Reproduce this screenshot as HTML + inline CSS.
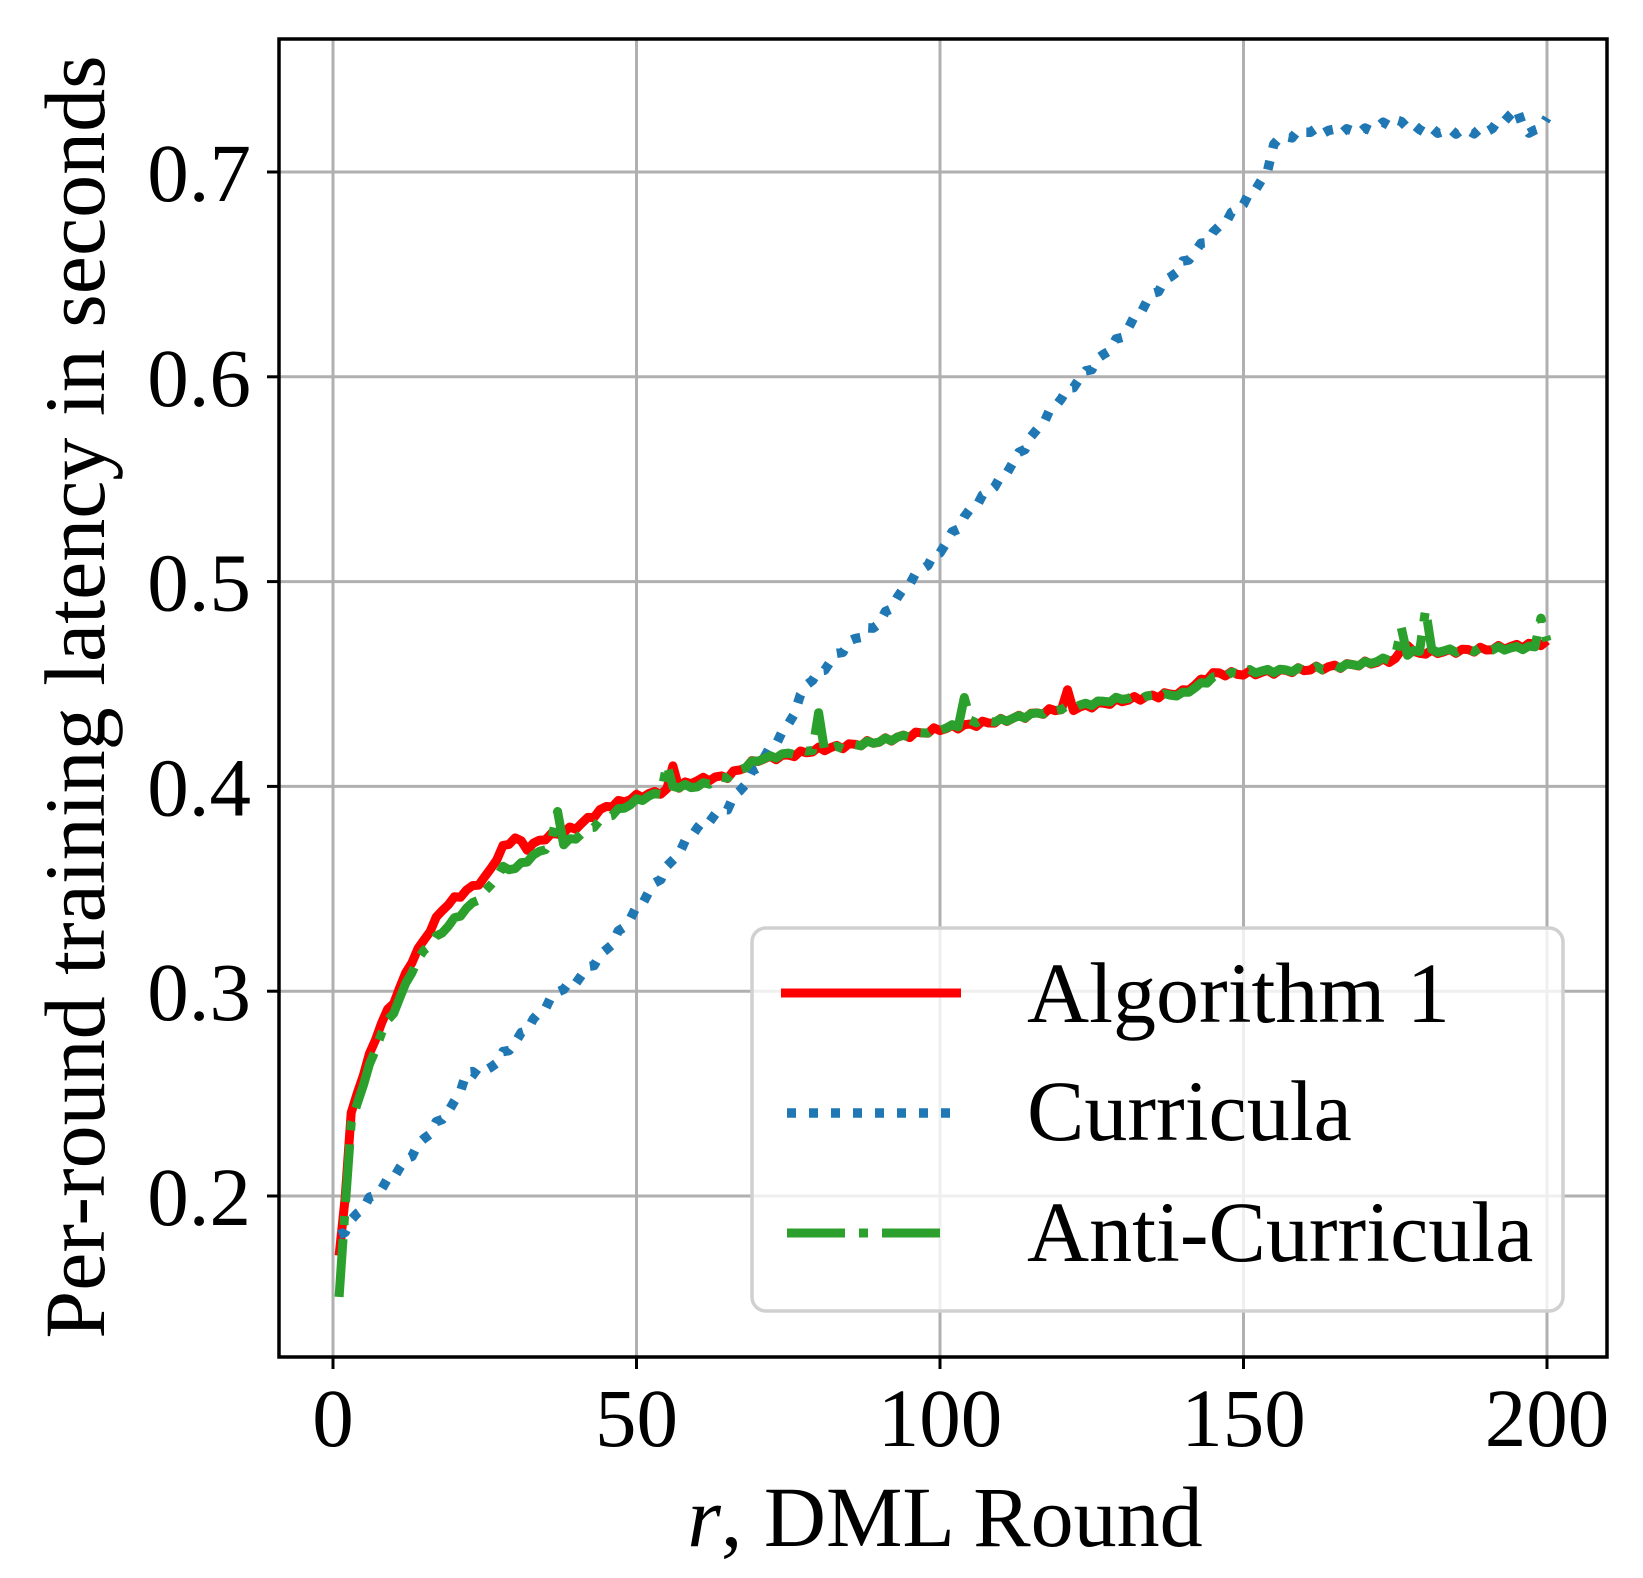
<!DOCTYPE html>
<html><head><meta charset="utf-8"><style>
html,body{margin:0;padding:0;background:#fff;}
svg{display:block;font-family:"Liberation Serif",serif;}
</style></head><body>
<svg id="s" width="1643" height="1578" xmlns="http://www.w3.org/2000/svg">
<rect width="1643" height="1578" fill="#fff"/>
<g id="grid" stroke="#b0b0b0" stroke-width="3"></g>
<g id="series" fill="none" stroke-linejoin="round"></g>
<rect x="279" y="39" width="1328" height="1318" fill="none" stroke="#000" stroke-width="3.5"/>
<g id="ticks" stroke="#000" stroke-width="3"></g>
<g id="labels" font-size="83" fill="#000"></g>
<text x="945" y="1546" font-size="86" text-anchor="middle"><tspan font-style="italic">r</tspan>, DML Round</text>
<text transform="translate(104,697) rotate(-90)" font-size="86" text-anchor="middle">Per-round training latency in seconds</text>
<g>
<rect x="752" y="928" width="811" height="383" rx="14" fill="#fff" fill-opacity="0.8" stroke="#d0d0d0" stroke-width="3.5"/>
<line x1="781" y1="993" x2="961" y2="993" stroke="#ff0000" stroke-width="9"/>
<line x1="787" y1="1113" x2="961" y2="1113" stroke="#1f77b4" stroke-width="9.5" stroke-dasharray="9 13"/>
<line x1="787" y1="1233" x2="961" y2="1233" stroke="#2ca02c" stroke-width="9" stroke-dasharray="58 14 9 14 58"/>
<text x="1027" y="1022" font-size="86">Algorithm 1</text>
<text x="1027" y="1140" font-size="86">Curricula</text>
<text x="1027" y="1261" font-size="86">Anti-Curricula</text>
</g>
</svg>
<script>
const NS="http://www.w3.org/2000/svg";
const X=v=>333+v*6.07, Y=v=>172+(0.7-v)*2048;
function el(p,t,a){const e=document.createElementNS(NS,t);for(const k in a)e.setAttribute(k,a[k]);p.appendChild(e);return e;}
const g=document.getElementById('grid'),tk=document.getElementById('ticks'),lb=document.getElementById('labels');
[0,50,100,150,200].forEach(v=>{const x=X(v);el(g,'line',{x1:x,y1:39,x2:x,y2:1357});el(tk,'line',{x1:x,y1:1357,x2:x,y2:1369});
 const t=el(lb,'text',{x:x,y:1446,'text-anchor':'middle'});t.textContent=v;});
[0.2,0.3,0.4,0.5,0.6,0.7].forEach(v=>{const y=Y(v);el(g,'line',{x1:279,y1:y,x2:1607,y2:y});el(tk,'line',{x1:267,y1:y,x2:279,y2:y});
 const t=el(lb,'text',{x:251,y:y+29,'text-anchor':'end'});t.textContent=v.toFixed(1);});
function interp(pts){const out=[];for(let i=0;i<pts.length-1;i++){const[a,b]=pts[i],[c,d]=pts[i+1];for(let x=a;x<c;x++){out.push([x,b+(d-b)*(x-a)/(c-a)]);}}out.push(pts[pts.length-1]);return out;}
function path(pts,jit){return interp(pts).map((p,i)=>(i?'L':'M')+X(p[0]).toFixed(1)+' '+Y(p[1]+(jit?jit*Math.sin(p[0]*2.3):0)).toFixed(1)).join(' ');}
const s=document.getElementById('series');
const blue=[[1,0.18],[5,0.195],[10,0.21],[15,0.228],[20,0.245],[22,0.26],[25,0.26],[30,0.275],[37,0.3],[40,0.305],[45,0.32],[50,0.34],[55,0.36],[60,0.38],[65,0.39],[70,0.41],[75,0.43],[78,0.45],[80,0.455],[85,0.47],[90,0.48],[95,0.5],[100,0.515],[105,0.535],[110,0.55],[115,0.57],[120,0.59],[125,0.605],[130,0.62],[135,0.64],[140,0.655],[145,0.67],[150,0.685],[154,0.7],[155,0.715],[160,0.72],[170,0.72],[175,0.725],[180,0.72],[190,0.72],[195,0.73],[197,0.718],[200,0.725]];
const red=[[1,0.17],[2,0.2],[3,0.24],[5,0.26],[8,0.285],[10,0.295],[13,0.315],[15,0.325],[18,0.34],[20,0.345],[25,0.355],[28,0.37],[30,0.375],[32,0.37],[35,0.375],[40,0.38],[45,0.39],[50,0.395],[55,0.398],[56,0.41],[57,0.4],[60,0.403],[65,0.405],[70,0.413],[75,0.415],[80,0.418],[90,0.422],[100,0.428],[110,0.432],[120,0.438],[121,0.446],[122,0.438],[130,0.442],[140,0.446],[145,0.455],[150,0.455],[160,0.457],[170,0.46],[175,0.462],[177,0.47],[178,0.465],[190,0.467],[200,0.47]];
const green=[[1,0.15],[2,0.195],[3,0.235],[5,0.255],[8,0.28],[10,0.29],[13,0.31],[15,0.32],[20,0.335],[25,0.348],[28,0.36],[30,0.36],[35,0.37],[36,0.373],[37,0.388],[38,0.372],[40,0.375],[45,0.385],[50,0.393],[54,0.397],[55,0.41],[56,0.4],[60,0.4],[65,0.405],[70,0.413],[75,0.416],[79,0.418],[80,0.435],[81,0.418],[90,0.422],[100,0.428],[103,0.43],[104,0.443],[105,0.432],[110,0.432],[120,0.438],[130,0.443],[140,0.445],[145,0.453],[150,0.456],[160,0.457],[170,0.46],[175,0.463],[176,0.477],[177,0.465],[179,0.466],[180,0.487],[181,0.466],[190,0.467],[198,0.468],[199,0.483],[200,0.47]];
el(s,'path',{d:path(red,0.0012),stroke:'#ff0000','stroke-width':9});
el(s,'path',{d:path(blue,0.0015),stroke:'#1f77b4','stroke-width':9.5,'stroke-dasharray':'9 13'});
el(s,'path',{d:path(green,0.001),stroke:'#2ca02c','stroke-width':9,'stroke-dasharray':'58 14 9 14'});
</script>
</body></html>
